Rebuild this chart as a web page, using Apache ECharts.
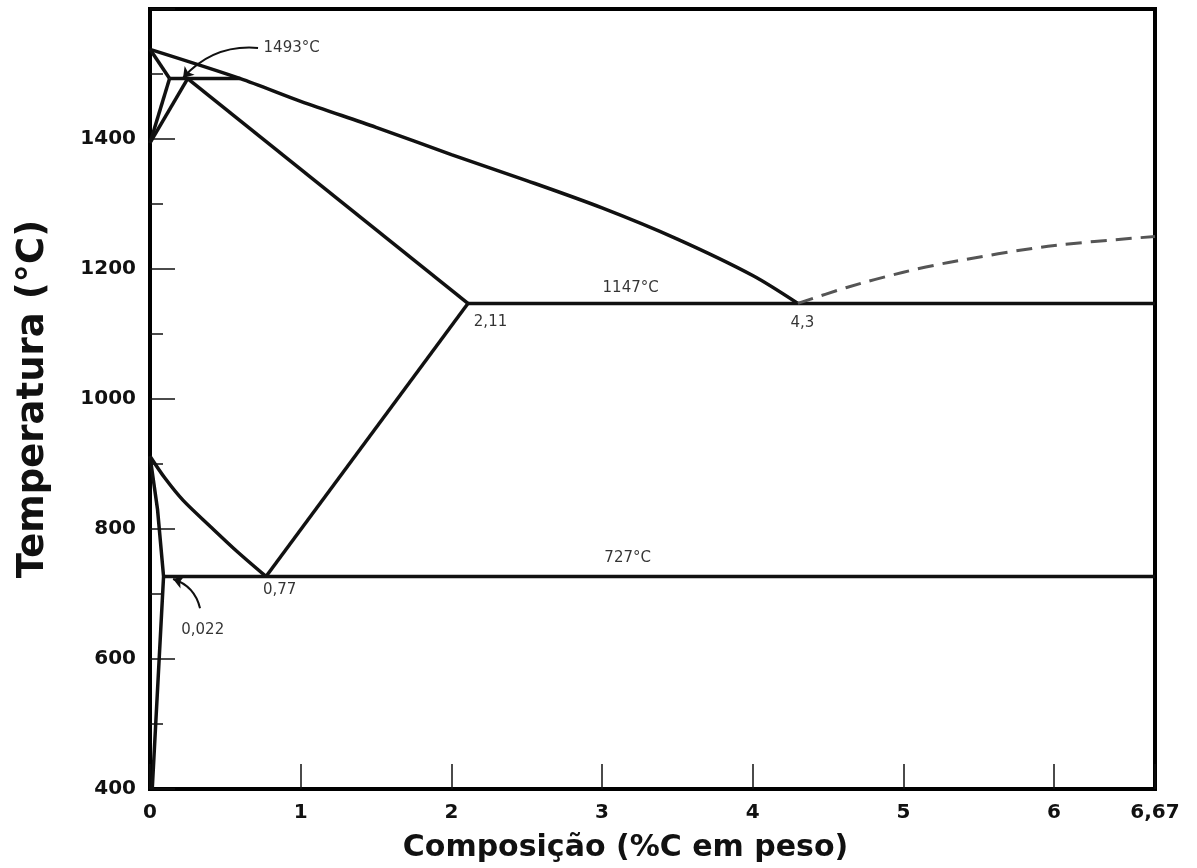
<!DOCTYPE html>
<html lang="pt">
<head>
<meta charset="UTF-8">
<title>Diagrama Fe-C</title>
<style>
  * { margin: 0; padding: 0; }
  #main { width: 1197px; height: 868px; background: #fff; }
</style>
</head>
<body>
<div id="main"></div>
<script src="https://cdn.jsdelivr.net/npm/echarts@6/dist/echarts.min.js"></script>
<script>
  // curvas do diagrama, pontos [%C, °C]
  let liquidus = [[0, 1538], [0.6, 1493], [1, 1458], [1.5, 1418], [2, 1376], [2.5, 1336], [3, 1294], [3.5, 1246], [4, 1190], [4.3, 1147]];
  let deltaLiq = [[0, 1538], [0.13, 1493]];
  let deltaSolvus = [[0.13, 1493], [0, 1394]];
  let gammaDelta = [[0, 1394], [0.25, 1493]];
  let peritetico = [[0.13, 1493], [0.6, 1493]];
  let solidus = [[0.25, 1493], [2.11, 1147]];
  let acm = [[0.77, 727], [2.11, 1147]];
  let a3 = [[0, 912], [0.1, 878], [0.22, 844], [0.4, 804], [0.58, 765], [0.77, 727]];
  let ferrita = [[0, 912], [0.05, 830], [0.09, 727], [0.015, 400]];
  let eutetico = [[2.11, 1147], [6.67, 1147]];
  let eutetoide = [[0.09, 727], [6.67, 727]];
  let cementita = [[4.3, 1147], [4.63, 1172], [5, 1195], [5.3, 1210], [5.96, 1235], [6.67, 1250]];

  // textos e setas
  let rotulos = [
    [0.94, 1540, '1493°C'],
    [3.19, 1171, '1147°C'],
    [3.17, 755, '727°C'],
    [2.26, 1118, '2,11'],
    [4.33, 1117, '4,3'],
    [0.86, 706, '0,77'],
    [0.35, 645, '0,022']
  ];
  let setas = [
    [[0.717, 1540], [0.219, 1494]],
    [[0.332, 678], [0.153, 723]]
  ];
  let curvaturas = [-0.25, -0.28];

  const fonte = 'DejaVu Sans';

  function linha(data, smooth) {
    return {
      type: 'line',
      data: data,
      symbol: 'none',
      smooth: smooth ? 0.3 : false,
      lineStyle: { color: '#111', width: 3.5 },
      silent: true
    }
  }

  let series = [
    linha(liquidus, true),
    linha(deltaLiq),
    linha(deltaSolvus),
    linha(gammaDelta),
    linha(peritetico),
    linha(solidus),
    linha(acm),
    linha(a3, true),
    linha(ferrita),
    linha(eutetico),
    linha(eutetoide),
    {
      type: 'line',
      data: cementita,
      symbol: 'none',
      smooth: 0.3,
      lineStyle: { color: '#555', width: 3, type: [16, 9] }
    },
    {
      type: 'lines',
      coordinateSystem: 'cartesian2d',
      symbol: ['none', 'arrow'],
      symbolSize: 10,
      data: setas.map((c, i) => ({
        coords: c,
        lineStyle: { curveness: curvaturas[i] }
      })),
      lineStyle: { color: '#111', width: 2, opacity: 1 }
    },
    {
      type: 'scatter',
      symbolSize: 1,
      itemStyle: { color: 'transparent' },
      data: rotulos.map(r => ({ value: [r[0], r[1]], name: r[2] })),
      label: {
        show: true,
        position: 'inside',
        formatter: '{b}',
        color: '#000',
        fontFamily: fonte,
        fontSize: 15
      }
    }
  ];

  let option = {
    animation: false,
    backgroundColor: '#fff',
    grid: {
      left: 150, right: 42, top: 9, bottom: 79,
      show: true,
      borderColor: '#000',
      borderWidth: 4
    },
    xAxis: {
      type: 'value',
      min: 0,
      max: 6.67,
      interval: 1,
      name: 'Composição (%C em peso)',
      nameLocation: 'middle',
      nameGap: 44,
      nameTextStyle: { fontFamily: fonte, fontWeight: 'bold', fontSize: 30, color: '#111', padding: [0, 54, 0, 0] },
      axisLine: { lineStyle: { color: '#000', width: 4 } },
      axisTick: { inside: true, length: 25, lineStyle: { color: '#111', width: 1.5 } },
      axisLabel: {
        formatter: v => String(v).replace('.', ','),
        fontFamily: fonte, fontWeight: 'bold', fontSize: 20, color: '#111', margin: 14
      },
      splitLine: { show: false }
    },
    yAxis: {
      type: 'value',
      min: 400,
      max: 1600,
      interval: 200,
      name: 'Temperatura (°C)',
      nameLocation: 'middle',
      nameGap: 98,
      nameTextStyle: { fontFamily: fonte, fontWeight: 'bold', fontSize: 37, color: '#111' },
      axisLine: { lineStyle: { color: '#000', width: 4 } },
      axisTick: { inside: true, length: 25, lineStyle: { color: '#111', width: 1.5 } },
      minorTick: { show: true, splitNumber: 2, length: 13, lineStyle: { color: '#111', width: 1.5 } },
      axisLabel: {
        formatter: v => v === 1600 ? '' : v,
        fontFamily: fonte, fontWeight: 'bold', fontSize: 20, color: '#111', margin: 14
      },
      splitLine: { show: false }
    },
    series: series
  };

  let myChart = echarts.init(document.getElementById('main'));
  myChart.setOption(option);
  window.addEventListener('resize', () => {
    myChart.resize();
  });
</script>
</body>
</html>
